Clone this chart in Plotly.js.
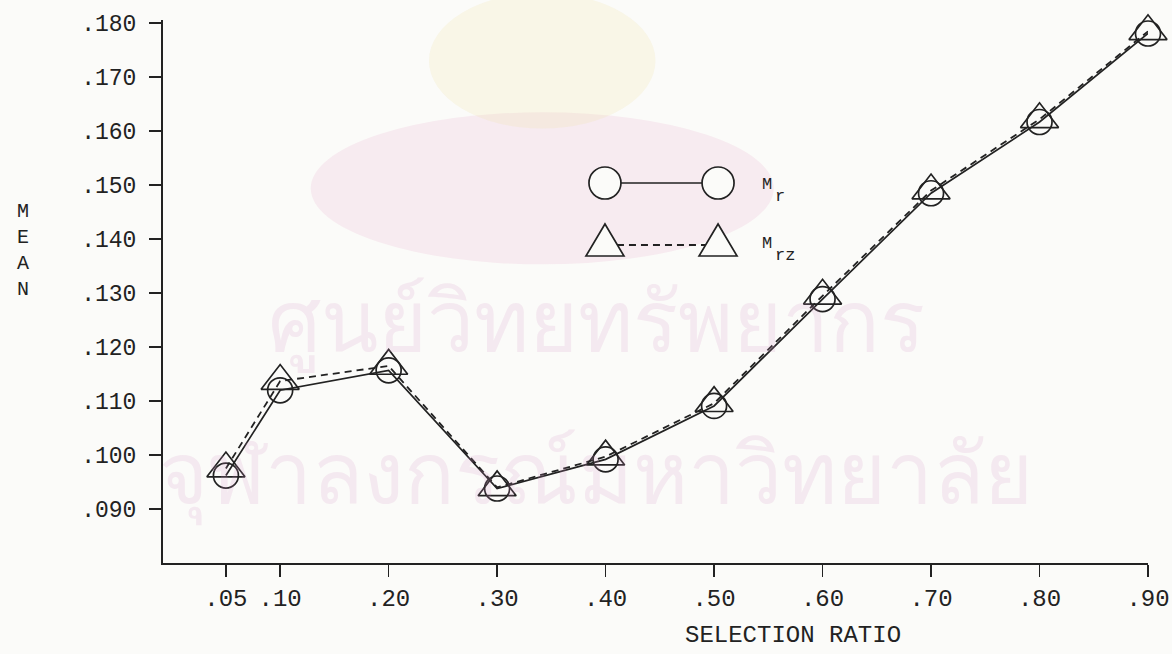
<!DOCTYPE html>
<html>
<head>
<meta charset="utf-8">
<script src="https://cdn.plot.ly/plotly-3.0.1.min.js"></script>
<style>
  html, body { margin: 0; padding: 0; background: #fbfbf9; }
  #chart { width: 1172px; height: 654px; }
</style>
</head>
<body>
<div id="chart"></div>
<script>
// selection ratio on x, mean on y
const ratios = [0.05, 0.10, 0.20, 0.30, 0.40, 0.50, 0.60, 0.70, 0.80, 0.90];
const mean_r = [0.0962, 0.1120, 0.1157, 0.0938, 0.0992, 0.1091, 0.1289, 0.1485, 0.1617, 0.1781];
const mean_rz = [0.0975, 0.1137, 0.1165, 0.0940, 0.0997, 0.1096, 0.1295, 0.1490, 0.1622, 0.1785];

const x_tick_labels = ['.05', '.10', '.20', '.30', '.40', '.50', '.60', '.70', '.80', '.90'];
const y_ticks = [0.09, 0.10, 0.11, 0.12, 0.13, 0.14, 0.15, 0.16, 0.17, 0.18];
const y_tick_labels = ['.090', '.100', '.110', '.120', '.130', '.140', '.150', '.160', '.170', '.180'];

const ink = '#222222';
const paper = '#fbfbf9';
const mono = '"Liberation Mono", "DejaVu Sans Mono", monospace';
const stamp = 'rgba(215,150,195,0.17)';

const chart_data = [
    {
        x: ratios,
        y: mean_r,
        name: 'Mr',
        mode: 'lines+markers',
        cliponaxis: false,
        line: {color: ink, width: 1.7},
        marker: {symbol: 'circle-open', size: 25, color: ink, line: {width: 1.7, color: ink}}
    },
    {
        x: ratios,
        y: mean_rz,
        name: 'Mrz',
        mode: 'lines+markers',
        cliponaxis: false,
        line: {color: ink, width: 1.8, dash: '7px,5px'},
        marker: {symbol: 'triangle-up-open', size: 33, color: ink, line: {width: 1.7, color: ink}}
    }
];

// legend glyphs drawn by hand: two markers joined by a line
const leg_x1 = 0.4487, leg_x2 = 0.5635;
const leg_y_r = 0.6998, leg_y_rz = 0.5856;
const tri = 'M-19,-11 L19,-11 L0,21 Z';

const shapes = [
    // faint emblem behind the plot
    {type: 'circle', xref: 'paper', yref: 'paper', x0: 0.15, x1: 0.62, y0: 0.55, y1: 0.83,
        fillcolor: 'rgba(235,175,205,0.20)', line: {width: 0}, layer: 'below'},
    {type: 'circle', xref: 'paper', yref: 'paper', x0: 0.27, x1: 0.50, y0: 0.80, y1: 1.05,
        fillcolor: 'rgba(240,228,170,0.22)', line: {width: 0}, layer: 'below'},

    {type: 'line', xref: 'paper', yref: 'paper', x0: leg_x1, x1: leg_x2, y0: leg_y_r, y1: leg_y_r,
        line: {color: ink, width: 1.7}},
    {type: 'line', xref: 'paper', yref: 'paper', x0: leg_x1, x1: leg_x2, y0: leg_y_rz, y1: leg_y_rz,
        line: {color: ink, width: 1.8, dash: '7px,5px'}},
    {type: 'circle', xref: 'paper', yref: 'paper', xsizemode: 'pixel', ysizemode: 'pixel',
        xanchor: leg_x1, yanchor: leg_y_r, x0: -16, x1: 16, y0: -16, y1: 16,
        fillcolor: paper, line: {color: ink, width: 1.7}},
    {type: 'circle', xref: 'paper', yref: 'paper', xsizemode: 'pixel', ysizemode: 'pixel',
        xanchor: leg_x2, yanchor: leg_y_r, x0: -16, x1: 16, y0: -16, y1: 16,
        fillcolor: paper, line: {color: ink, width: 1.7}},
    {type: 'path', xref: 'paper', yref: 'paper', xsizemode: 'pixel', ysizemode: 'pixel',
        xanchor: leg_x1, yanchor: leg_y_rz, path: tri,
        fillcolor: paper, line: {color: ink, width: 1.7}},
    {type: 'path', xref: 'paper', yref: 'paper', xsizemode: 'pixel', ysizemode: 'pixel',
        xanchor: leg_x2, yanchor: leg_y_rz, path: tri,
        fillcolor: paper, line: {color: ink, width: 1.7}}
];

const leg_font = {family: mono, size: 17, color: ink};

const chart_layout = {
    width: 1172,
    height: 654,
    margin: {l: 163, r: 24, t: 20, b: 91},
    paper_bgcolor: paper,
    plot_bgcolor: 'rgba(0,0,0,0)',
    showlegend: false,
    font: {family: mono, color: ink, size: 23},
    xaxis: {
        range: [-0.008, 0.90],
        tickvals: ratios,
        ticktext: x_tick_labels,
        ticks: 'outside', ticklen: 12, tickwidth: 1.7, tickcolor: ink,
        showline: true, linewidth: 2, linecolor: ink,
        showgrid: false, zeroline: false,
        tickfont: {family: mono, size: 24, color: ink}
    },
    yaxis: {
        range: [0.080, 0.1806],
        tickvals: y_ticks,
        ticktext: y_tick_labels,
        ticks: 'outside', ticklen: 12, tickwidth: 1.7, tickcolor: ink,
        showline: true, linewidth: 2, linecolor: ink,
        showgrid: false, zeroline: false,
        tickfont: {family: mono, size: 23, color: ink},
        ticklabelstandoff: 8
    },
    shapes: shapes,
    annotations: [
        // library stamp on the scanned page
        {xref: 'paper', yref: 'paper', x: 0.44, y: 0.45, showarrow: false,
            text: 'ศูนย์วิทยทรัพยากร', font: {family: '"Noto Sans", "DejaVu Sans", sans-serif', size: 84, color: stamp}},
        {xref: 'paper', yref: 'paper', x: 0.44, y: 0.06, showarrow: false,
            text: 'จุฬาลงกรณ์มหาวิทยาลัย', font: {family: '"Noto Sans", "DejaVu Sans", sans-serif', size: 84, color: stamp}},

        {xref: 'paper', yref: 'paper', x: 0.64, y: -0.1326, yanchor: 'middle', showarrow: false,
            text: 'SELECTION RATIO', font: {family: mono, size: 24, color: ink}},
        {xref: 'paper', yref: 'paper', x: -0.150, y: 0.576, showarrow: false,
            text: 'M<br>E<br>A<br>N', align: 'center',
            font: {family: mono, size: 20, color: ink}},
        {xref: 'paper', yref: 'paper', x: 0.606, y: 0.718, xanchor: 'left', showarrow: false,
            text: 'M', font: leg_font},
        {xref: 'paper', yref: 'paper', x: 0.619, y: 0.696, xanchor: 'left', showarrow: false,
            text: 'r', font: leg_font},
        {xref: 'paper', yref: 'paper', x: 0.606, y: 0.588, xanchor: 'left', showarrow: false,
            text: 'M', font: leg_font},
        {xref: 'paper', yref: 'paper', x: 0.619, y: 0.566, xanchor: 'left', showarrow: false,
            text: 'rz', font: leg_font}
    ]
};

Plotly.newPlot('chart', chart_data, chart_layout, {displayModeBar: false, staticPlot: true});
</script>
</body>
</html>
